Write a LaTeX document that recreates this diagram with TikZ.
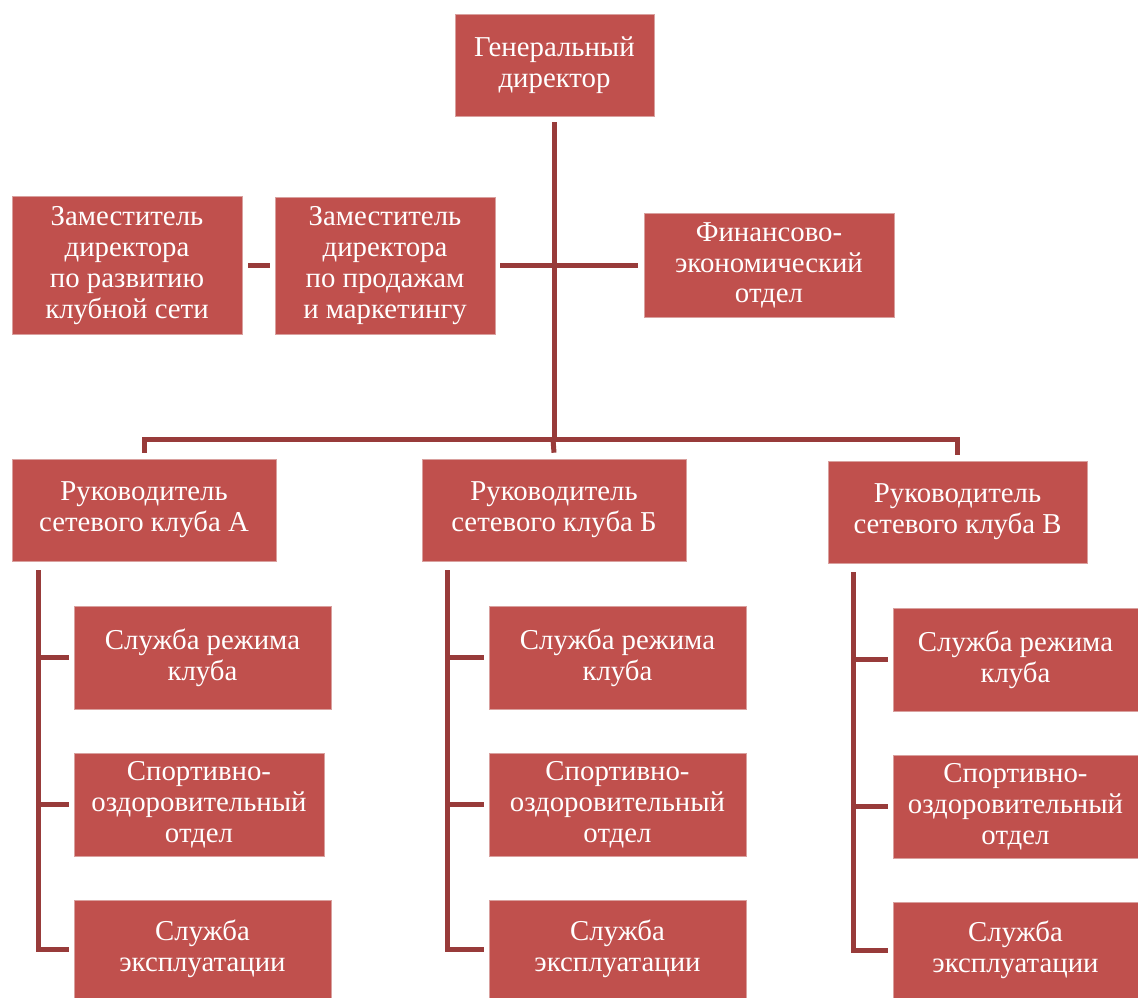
\documentclass[tikz,border=0pt]{standalone}
\usepackage{fontspec}
\setmainfont{Liberation Serif}
\usepackage{tikz}
\usetikzlibrary{calc}
\definecolor{unitred}{HTML}{C0504D}
\definecolor{linkred}{HTML}{983B3A}
\definecolor{unitedge}{HTML}{D9A09E}
\tikzset{
  unit/.style={draw=unitedge, fill=unitred, line width=0.6pt, align=center, inner sep=0pt,
    font=\fontsize{28.8}{30.8}\selectfont, text=white},
  link/.style={draw=linkred, line width=5pt}
}

\begin{document}
\begin{tikzpicture}[x=1pt, y=-1pt]
\useasboundingbox (0,0) rectangle (1138,998);
% top level
\node[unit, minimum width=199pt, minimum height=102pt] (gen) at (554.5,65) {Генеральный\\директор};
\node[unit, minimum width=230pt, minimum height=138pt] (zamr) at (127,265.5) {Заместитель\\директора\\по развитию\\клубной сети};
\node[unit, minimum width=220pt, minimum height=137pt] (zamp) at (385,265.5) {Заместитель\\директора\\по продажам\\и маркетингу};
\node[unit, minimum width=250pt, minimum height=104pt] (fin) at (769,265.5) {Финансово-\\экономический\\отдел};
% club heads
\node[unit, minimum width=264pt, minimum height=102pt] (rukA) at (144,510) {Руководитель\\сетевого клуба А};
\node[unit, minimum width=264pt, minimum height=102pt] (rukB) at (554,510) {Руководитель\\сетевого клуба Б};
\node[unit, minimum width=259pt, minimum height=102pt] (rukV) at (957.5,512) {Руководитель\\сетевого клуба В};
% club A services
\node[unit, minimum width=257pt, minimum height=103pt] (regA) at (202.5,657.5) {Служба режима\\клуба};
\node[unit, minimum width=250pt, minimum height=103pt] (sportA) at (199,804.5) {Спортивно-\\оздоровительный\\отдел};
\node[unit, minimum width=257pt, minimum height=98pt] (expA) at (202.5,949) {Служба\\эксплуатации};
% club B services
\node[unit, minimum width=257pt, minimum height=103pt] (regB) at (617.5,657.5) {Служба режима\\клуба};
\node[unit, minimum width=257pt, minimum height=103pt] (sportB) at (617.5,804.5) {Спортивно-\\оздоровительный\\отдел};
\node[unit, minimum width=257pt, minimum height=98pt] (expB) at (617.5,949) {Служба\\эксплуатации};
% club V services
\node[unit, minimum width=245pt, minimum height=103pt] (regV) at (1015.5,659.5) {Служба режима\\клуба};
\node[unit, minimum width=245pt, minimum height=103pt] (sportV) at (1015.5,806.5) {Спортивно-\\оздоровительный\\отдел};
\node[unit, minimum width=245pt, minimum height=96pt] (expV) at (1015.5,950) {Служба\\эксплуатации};

\coordinate (bus) at (553,439);
\coordinate (spineA) at (38,570);
\coordinate (spineB) at (447,570);
\coordinate (spineV) at (853,572);

\draw[link] ([yshift=-6pt]gen.south) -- (gen.south |- bus);
\draw[link] ([xshift=5pt]zamp.east) -- ([xshift=-6pt]fin.west);
\draw[link] ([xshift=6pt]zamr.east) -- ([xshift=-5pt]zamp.west);
\draw[link] ([yshift=6pt]rukA.north) |- (bus) -| ([yshift=6pt]rukV.north);
\draw[link] (bus) -- ([yshift=6pt]rukB.north);
% services
\draw[link] (spineA) |- ([xshift=-5pt]expA.west);
\draw[link] (spineA |- regA.west) -- ([xshift=-5pt]regA.west); \draw[link] (spineA |- sportA.west) -- ([xshift=-5pt]sportA.west);
\draw[link] (spineB) |- ([xshift=-5pt]expB.west);
\draw[link] (spineB |- regB.west) -- ([xshift=-5pt]regB.west); \draw[link] (spineB |- sportB.west) -- ([xshift=-5pt]sportB.west);
\draw[link] (spineV) |- ([xshift=-5pt]expV.west);
\draw[link] (spineV |- regV.west) -- ([xshift=-5pt]regV.west); \draw[link] (spineV |- sportV.west) -- ([xshift=-5pt]sportV.west);
\end{tikzpicture}
\end{document}
